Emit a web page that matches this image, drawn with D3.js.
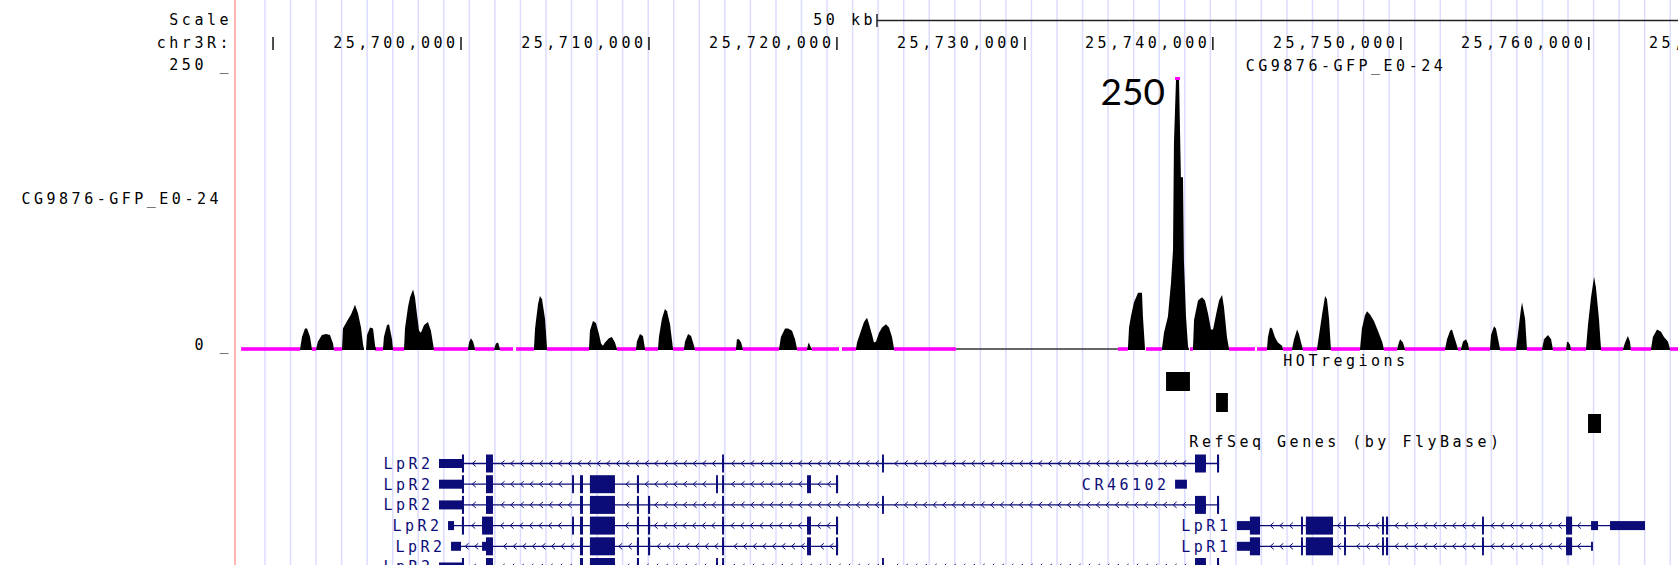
<!DOCTYPE html>
<html>
<head>
<meta charset="utf-8">
<script src="https://cdn.jsdelivr.net/npm/d3@7"></script>
<style>
  body { margin: 0; background: white; }
  svg text { font-family: "DejaVu Sans Mono", monospace; font-size: 15px; letter-spacing: 3.5px; }
</style>
</head>
<body>
<script>
// ---- data (chr3R, dm6) ----

const chromName = "chr3R:"
const tickPositions = [25690000, 25700000, 25710000, 25720000, 25730000, 25740000, 25750000, 25760000, 25770000]
const unlabelledTicks = [25690000]
const scaleBarLabel = "50 kb"
const scaleBarBp = 50000

const trackName = "CG9876-GFP_E0-24"
const viewMax = 250
const viewMin = 0

// each peak is a list of [position, signal]
const signalPeaks = [
    [[25691440,0],[25691540,11],[25691700,19],[25691810,19],[25691970,11],[25692070,0]],
    [[25692290,0],[25692390,7],[25692600,13],[25692820,14],[25693030,13],[25693190,5],[25693240,0]],
    [[25693670,0],[25693720,19],[25693940,26],[25694150,32],[25694360,41],[25694520,33],[25694680,20],[25694790,4],[25694840,0]],
    [[25694950,0],[25695000,13],[25695160,20],[25695320,19],[25695430,3],[25695480,0]],
    [[25695850,0],[25695900,11],[25696060,22],[25696170,23],[25696330,9],[25696380,0]],
    [[25696970,0],[25697020,19],[25697180,39],[25697290,48],[25697450,55],[25697550,48],[25697660,32],[25697770,17],[25697870,15],[25698030,22],[25698240,25],[25698400,17],[25698510,5],[25698560,0]],
    [[25700370,0],[25700430,6],[25700530,10],[25700640,7],[25700750,0]],
    [[25701760,0],[25701860,5],[25701970,6],[25702080,0]],
    [[25703880,0],[25703940,19],[25704100,42],[25704200,49],[25704310,46],[25704470,28],[25704580,0]],
    [[25706810,0],[25706860,17],[25707020,26],[25707180,24],[25707340,14],[25707450,5],[25707550,3],[25707660,6],[25707870,10],[25708030,11],[25708190,6],[25708300,0]],
    [[25709310,0],[25709360,7],[25709520,14],[25709680,12],[25709790,0]],
    [[25710480,0],[25710530,11],[25710690,28],[25710850,37],[25710960,35],[25711120,23],[25711280,0]],
    [[25711860,0],[25711920,7],[25712080,14],[25712240,12],[25712450,0]],
    [[25714630,0],[25714680,9],[25714790,9],[25714900,6],[25715000,0]],
    [[25716920,0],[25717020,11],[25717240,19],[25717400,19],[25717610,17],[25717770,9],[25717880,0]],
    [[25718410,0],[25718460,4],[25718510,6],[25718570,3],[25718670,0]],
    [[25721010,0],[25721070,6],[25721280,17],[25721440,25],[25721600,29],[25721710,23],[25721870,13],[25721970,6],[25722080,7],[25722240,15],[25722400,20],[25722610,23],[25722770,20],[25722930,11],[25723040,0]],
    [[25735480,0],[25735540,20],[25735640,30],[25735800,43],[25736020,52],[25736230,52],[25736280,30],[25736390,0]],
    [[25737290,0],[25737400,15],[25737610,30],[25737770,61],[25737880,92],[25737930,191],[25738040,250],[25738200,250],[25738300,159],[25738410,159],[25738460,82],[25738570,30],[25738680,2],[25738730,0]],
    [[25738940,0],[25739000,27],[25739210,45],[25739420,48],[25739580,45],[25739740,33],[25739900,18],[25740010,18],[25740170,32],[25740330,45],[25740490,50],[25740590,39],[25740750,11],[25740860,0]],
    [[25742880,0],[25742930,11],[25743040,20],[25743150,19],[25743300,11],[25743460,6],[25743680,3],[25743730,0]],
    [[25744210,0],[25744320,9],[25744480,18],[25744580,14],[25744690,6],[25744790,0]],
    [[25745540,0],[25745650,13],[25745810,32],[25745970,49],[25746070,46],[25746180,28],[25746280,0]],
    [[25747830,0],[25747930,19],[25748090,31],[25748200,35],[25748360,32],[25748570,26],[25748780,17],[25749000,7],[25749100,0]],
    [[25749800,0],[25749900,6],[25749960,9],[25750110,6],[25750220,0]],
    [[25752350,0],[25752460,9],[25752620,17],[25752720,18],[25752880,9],[25753040,0]],
    [[25753200,0],[25753310,7],[25753470,9],[25753570,5],[25753630,0]],
    [[25754740,0],[25754800,13],[25754960,21],[25755060,19],[25755220,5],[25755280,0]],
    [[25756130,0],[25756230,14],[25756390,37],[25756450,43],[25756610,28],[25756710,0]],
    [[25757510,0],[25757620,9],[25757830,13],[25757990,9],[25758090,0]],
    [[25758790,0],[25758840,6],[25758890,7],[25759000,4],[25759050,0]],
    [[25759850,0],[25759960,23],[25760120,48],[25760280,67],[25760380,57],[25760540,28],[25760650,0]],
    [[25761820,0],[25761930,6],[25762080,12],[25762190,7],[25762240,0]],
    [[25763310,0],[25763410,11],[25763630,18],[25763840,16],[25764000,11],[25764210,7],[25764320,0]],
]

// stretches with zero signal (drawn magenta on the baseline)
const zeroSpans = [
    [25688300,25691440],[25692070,25692290],[25693240,25693670],[25695430,25695850],[25696380,25696970],
    [25698560,25700370],[25700750,25701760],[25702080,25702770],[25702930,25703880],[25704580,25706810],
    [25708300,25709310],[25709790,25710480],[25711280,25711860],[25712450,25714630],[25715000,25716920],
    [25717880,25718410],[25718670,25720110],[25720270,25721010],[25723040,25726330],[25734950,25735480],
    [25736440,25737290],[25738780,25738940],[25740860,25742240],[25742350,25742880],[25743730,25744210],
    [25744790,25745540],[25746280,25747830],[25749100,25749800],[25750220,25752350],[25753040,25753200],
    [25753630,25754740],[25755280,25756130],[25756710,25757510],[25758090,25758790],[25759050,25759850],
    [25760650,25761820],[25762240,25763310],[25764320,25764800],
]
const noDataSpans = [[25726330, 25734950]]

const hotTrackName = "HOTregions"
const hotRegions = [[25737510, 25738780], [25740170, 25740800], [25759960, 25760650]]

const geneTrackName = "RefSeq Genes (by FlyBase)"
const transcripts = [
    { name: "LpR2", txStart: 25698830, txEnd: 25740330, cdsStart: 25700050, cdsEnd: 25740330,
      exons: [[25698830,25700160],[25701330,25701700],[25713890,25713990],[25722400,25722500],[25739050,25739630],[25740220,25740330]] },
    { name: "LpR2", txStart: 25698830, txEnd: 25720060, cdsStart: 25700050, cdsEnd: 25720060,
      exons: [[25698830,25700160],[25701330,25701700],[25705910,25706010],[25706330,25706490],[25706860,25708190],[25709360,25709470],[25713570,25713670],[25713890,25713990],[25718410,25718620],[25719950,25720060]] },
    { name: "LpR2", txStart: 25698830, txEnd: 25740330, cdsStart: 25700050, cdsEnd: 25740330,
      exons: [[25698830,25700160],[25701330,25701700],[25706330,25706490],[25706860,25708190],[25709360,25709470],[25709950,25710060],[25713890,25713990],[25722400,25722500],[25739050,25739630],[25740220,25740330]] },
    { name: "LpR2", txStart: 25699310, txEnd: 25720060, cdsStart: 25700050, cdsEnd: 25720060,
      exons: [[25699310,25699630],[25700050,25700160],[25701120,25701700],[25705910,25706010],[25706330,25706490],[25706860,25708190],[25709360,25709470],[25709950,25710060],[25713890,25713990],[25718410,25718620],[25719950,25720060]] },
    { name: "LpR2", txStart: 25699470, txEnd: 25720060, cdsStart: 25701330, cdsEnd: 25720060,
      exons: [[25699470,25700000],[25701120,25701700],[25706330,25706490],[25706860,25708190],[25709360,25709470],[25709950,25710060],[25713890,25713990],[25718410,25718620],[25719950,25720060]] },
    { name: "LpR2", txStart: 25698830, txEnd: 25740330, cdsStart: 25700050, cdsEnd: 25740330,
      exons: [[25698830,25700160],[25701330,25701700],[25706330,25706490],[25706860,25708190],[25709360,25709470],[25713570,25713670],[25713890,25713990],[25722400,25722500],[25739050,25739630],[25740220,25740330]] },
    { name: "CR46102", txStart: 25737990, txEnd: 25738620, cdsStart: 25738620, cdsEnd: 25738620,
      exons: [[25737990,25738620]] },
    { name: "LpR1", txStart: 25741280, txEnd: 25762990, cdsStart: 25741970, cdsEnd: 25759110,
      exons: [[25741280,25742510],[25744690,25744790],[25744950,25746390],[25746980,25747080],[25749000,25749100],[25749210,25749320],[25754320,25754420],[25758790,25759110],[25760120,25760490],[25761130,25762990]] },
    { name: "LpR1", txStart: 25741280, txEnd: 25760220, cdsStart: 25741970, cdsEnd: 25759110,
      exons: [[25741280,25742510],[25744690,25744790],[25744950,25746390],[25746980,25747080],[25749000,25749100],[25749210,25749320],[25754320,25754420],[25758790,25759110],[25760120,25760220]] },
]

const noteText = "250"

// ---- layout ----

const svgWidth = 1678
const svgHeight = 565
const sideEdge = 235       // end of the label column
const labelRight = 232
const trackCenterX = 1346
const charW = 12.5
const navy = "rgb(12,12,120)"

let svg = d3.select("body")
    .append("svg")
    .attr("width", svgWidth)
    .attr("height", svgHeight)

let x = d3.scaleLinear()
    .domain([25700000, 25760000])
    .range([461, 1588.8])

let y = d3.scaleLinear()
    .domain([viewMin, viewMax])
    .range([349, 79])

function label(g, px, py, txt, anchor, color) {
    return g.append("text")
        .attr("x", px)
        .attr("y", py)
        .attr("dy", "0.36em")
        .attr("text-anchor", anchor)
        .attr("fill", color || "black")
        .text(txt)
}

/* guide lines */

let guides = d3.range(25689570, 25765000, 1359.3)
svg.append("g")
    .selectAll("line")
    .data(guides)
    .enter()
    .append("line")
    .attr("x1", d => x(d))
    .attr("x2", d => x(d))
    .attr("y1", 0)
    .attr("y2", svgHeight)
    .attr("stroke", "#dcdcff")
    .attr("stroke-width", 1.5)

svg.append("line")
    .attr("x1", sideEdge).attr("x2", sideEdge)
    .attr("y1", 0).attr("y2", svgHeight)
    .attr("stroke", "#ffb4b4")
    .attr("stroke-width", 2)

/* scale bar and position ruler */

let header = svg.append("g")
label(header, labelRight, 20, "Scale", "end")
label(header, labelRight, 43, chromName, "end")

let barStart = 877
label(header, barStart - 1, 20, scaleBarLabel, "end")
header.append("line")
    .attr("x1", barStart).attr("x2", barStart + (x(scaleBarBp) - x(0)))
    .attr("y1", 20.5).attr("y2", 20.5)
    .attr("stroke", "#222").attr("stroke-width", 1.5)
header.append("line")
    .attr("x1", barStart).attr("x2", barStart)
    .attr("y1", 14).attr("y2", 27)
    .attr("stroke", "#222").attr("stroke-width", 1.5)

let ticks = header.selectAll(".tick")
    .data(tickPositions)
    .enter()
    .append("g")
    .attr("class", "tick")

ticks.append("line")
    .attr("x1", d => x(d)).attr("x2", d => x(d))
    .attr("y1", 37).attr("y2", 50)
    .attr("stroke", "#111").attr("stroke-width", 1.5)

ticks.filter(d => !unlabelledTicks.includes(d))
    .append("text")
    .attr("x", d => x(d) - 2.5)
    .attr("y", 43)
    .attr("dy", "0.36em")
    .attr("text-anchor", "end")
    .text(d => d3.format(",")(d))

/* signal track */

let sig = svg.append("g")
label(sig, labelRight, 65, viewMax + " _", "end")
label(sig, labelRight, 345, viewMin + " _", "end")
label(sig, 222, 199, trackName, "end")
label(sig, trackCenterX, 66, trackName, "middle")

sig.selectAll(".nodata")
    .data(noDataSpans)
    .enter()
    .append("line")
    .attr("x1", d => x(d[0])).attr("x2", d => x(d[1]))
    .attr("y1", y(0)).attr("y2", y(0))
    .attr("stroke", "#333").attr("stroke-width", 1.5)

sig.selectAll(".zero")
    .data(zeroSpans)
    .enter()
    .append("rect")
    .attr("x", d => x(d[0]))
    .attr("width", d => x(d[1]) - x(d[0]))
    .attr("y", y(0) - 1.8)
    .attr("height", 3.6)
    .attr("fill", "#ff00ff")

let area = d3.area()
    .x(d => x(d[0]))
    .y0(y(0) + 1)
    .y1(d => y(Math.min(d[1], viewMax)))

sig.selectAll(".peak")
    .data(signalPeaks)
    .enter()
    .append("path")
    .attr("d", area)
    .attr("fill", "black")

// clipped values get a magenta mark on top
signalPeaks.forEach(pk => {
    let over = pk.filter(d => d[1] >= viewMax)
    if (over.length) {
        sig.append("rect")
            .attr("x", x(over[0][0]) - 1)
            .attr("width", x(over[over.length - 1][0]) - x(over[0][0]) + 2)
            .attr("y", y(viewMax) - 2)
            .attr("height", 3)
            .attr("fill", "#ff00ff")
    }
})

/* HOT regions */

let hot = svg.append("g")
label(hot, trackCenterX, 361, hotTrackName, "middle")
hot.selectAll("rect")
    .data(hotRegions)
    .enter()
    .append("rect")
    .attr("x", d => x(d[0]))
    .attr("width", d => x(d[1]) - x(d[0]))
    .attr("y", (d, i) => 372 + i * 21)
    .attr("height", 19)
    .attr("fill", "black")

/* genes, packed into rows */

let genes = svg.append("g")
label(genes, trackCenterX, 442, geneTrackName, "middle")

const rowY0 = 463.5
const rowStep = 20.7
let rowEnds = []
transcripts.forEach(t => {
    let left = x(t.txStart) - 9 - t.name.length * charW
    let r = rowEnds.findIndex(e => e < left - 4)
    if (r < 0) { r = rowEnds.length; rowEnds.push(0) }
    rowEnds[r] = x(t.txEnd)
    t.row = r
})

transcripts.forEach(t => {
    let cy = rowY0 + t.row * rowStep
    let g = genes.append("g")

    g.append("line")
        .attr("x1", x(t.txStart)).attr("x2", x(t.txEnd))
        .attr("y1", cy).attr("y2", cy)
        .attr("stroke", navy).attr("stroke-width", 1.3)

    // strand chevrons (minus strand)
    let arrows = []
    for (let p = x(t.txStart) + 6; p < x(t.txEnd) - 3; p += 9.6) {
        let inExon = t.exons.some(e => p > x(e[0]) - 4 && p < x(e[1]) + 4)
        if (!inExon) arrows.push(p)
    }
    g.selectAll(".arrow")
        .data(arrows)
        .enter()
        .append("path")
        .attr("d", p => `M${p + 2},${cy - 3}L${p - 1.5},${cy}L${p + 2},${cy + 3}`)
        .attr("fill", "none")
        .attr("stroke", navy)
        .attr("stroke-width", 1)

    t.exons.forEach(e => {
        g.append("rect")
            .attr("x", x(e[0]))
            .attr("width", Math.max(1.8, x(e[1]) - x(e[0])))
            .attr("y", cy - 4.5)
            .attr("height", 9)
            .attr("fill", navy)
        let s = Math.max(e[0], t.cdsStart), en = Math.min(e[1], t.cdsEnd)
        if (en > s) {
            g.append("rect")
                .attr("x", x(s))
                .attr("width", Math.max(1.8, x(en) - x(s)))
                .attr("y", cy - 9)
                .attr("height", 18)
                .attr("fill", navy)
        }
    })

    label(g, x(t.txStart) - 5.5, cy, t.name, "end", navy)
})

/* hand-written note on the top peak */

svg.append("text")
    .attr("x", 1165)
    .attr("y", 105)
    .attr("text-anchor", "end")
    .style("font-family", "Lato, 'Open Sans', sans-serif")
    .style("font-size", "37px")
    .style("letter-spacing", "0px")
    .text(noteText)
</script>
</body>
</html>
